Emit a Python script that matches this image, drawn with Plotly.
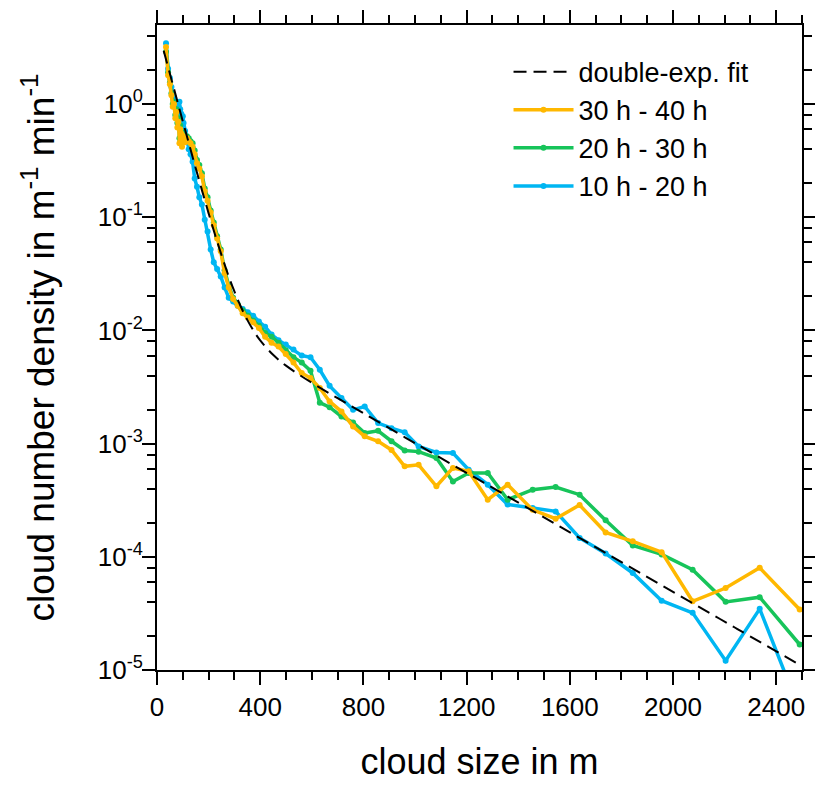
import plotly.graph_objects as go

# ---- data ----
size_m = [35, 43, 50, 56, 61, 66, 71, 75, 79, 83,
          87, 90, 94, 97, 100, 103, 109, 116, 123, 130,
          138, 146, 155, 164, 174, 185, 196, 208, 220, 233,
          247, 262, 278, 295, 313, 332, 352, 373, 395, 419,
          444, 471, 499, 529, 561, 595, 631, 669, 715, 760,
          805, 857, 909, 960, 1014, 1083, 1147, 1208, 1282, 1359,
          1456, 1545, 1638, 1739, 1844, 1956, 2076, 2204, 2336, 2491]

dens_10_20 = [3.45, 2.05, 1.7, 1.42, 1.2, 1.15, 1.0, 1.05, 0.9, 0.95,
              1.05, 0.9, 0.82, 0.75, 0.78, 0.68, 0.58, 0.47, 0.40, 0.36,
              0.31, 0.22, 0.186, 0.15, 0.13, 0.095, 0.075, 0.052, 0.040, 0.035,
              0.030, 0.024, 0.0195, 0.018, 0.0165, 0.0155, 0.0145, 0.0135, 0.012, 0.0108,
              0.0092, 0.0082, 0.0075, 0.0068, 0.006, 0.0058, 0.0045, 0.00324, 0.00253, 0.00199,
              0.00213, 0.00152, 0.00137, 0.00126, 0.000944, 0.000836, 0.000826, 0.000589, 0.000434, 0.00029,
              0.00027, 0.000252, 0.000147, 0.000107, 7.2e-5, 4.1e-5, 3.2e-5, 1.21e-5, 3.47e-5, 4.4e-6]

dens_20_30 = [2.9, 1.9, 1.55, 1.25, 1.0, 1.05, 0.8, 0.9, 0.68, 0.75,
              0.5, 0.65, 0.58, 0.47, 0.52, 0.55, 0.5, 0.52, 0.5, 0.47,
              0.45, 0.39, 0.32, 0.29, 0.245, 0.18, 0.15, 0.115, 0.09, 0.068,
              0.052, 0.034, 0.025, 0.0195, 0.017, 0.015, 0.0135, 0.0122, 0.011, 0.0095,
              0.0088, 0.0078, 0.0067, 0.0058, 0.0052, 0.0044, 0.0023, 0.0021, 0.00174, 0.00154,
              0.00124, 0.0013, 0.00105, 0.00087, 0.00085, 0.000746, 0.000463, 0.00055, 0.00055, 0.00032,
              0.000392, 0.000414, 0.000354, 0.00021, 0.000126, 0.000105, 7.7e-5, 4.0e-5, 4.4e-5, 1.68e-5]

dens_30_40 = [3.2, 1.8, 1.5, 1.2, 0.95, 1.0, 0.75, 0.85, 0.62, 0.7,
              0.45, 0.6, 0.55, 0.42, 0.48, 0.52, 0.46, 0.5, 0.47, 0.45,
              0.42, 0.36, 0.30, 0.27, 0.23, 0.17, 0.14, 0.11, 0.085, 0.065,
              0.05, 0.032, 0.024, 0.019, 0.0165, 0.0142, 0.013, 0.0118, 0.0105, 0.0088,
              0.0078, 0.0072, 0.0062, 0.0052, 0.0042, 0.0038, 0.0031, 0.00236, 0.00192, 0.00142,
              0.00116, 0.00105, 0.00088, 0.00063, 0.00065, 0.00042, 0.00061, 0.00057, 0.00032, 0.000434,
              0.00026, 0.000217, 0.000287, 0.000164, 0.000137, 0.00011, 4.05e-5, 5.3e-5, 8.0e-5, 3.42e-5]

fit_x = [26, 50, 75, 100, 125, 150, 175, 200, 225, 250, 275, 300, 325, 350, 375,
         400, 450, 500, 600, 700, 800, 1000, 1250, 1500, 1750, 2000, 2250, 2500]
fit_y = [2.96, 1.857, 1.143, 0.705, 0.437, 0.272, 0.171, 0.1086, 0.0700, 0.0463,
         0.0314, 0.02213, 0.0162, 0.0124, 0.00988, 0.00817, 0.00609, 0.00489, 0.00345,
         0.00252, 0.00186, 0.00101, 0.000475, 0.000223, 0.0001045, 4.9e-5, 2.3e-5, 1.08e-5]

x_ticks = [0, 400, 800, 1200, 1600, 2000, 2400]
y_ticks = [1e-5, 1e-4, 1e-3, 1e-2, 1e-1, 1]
y_ticktext = ["10<sup>-5</sup>", "10<sup>-4</sup>", "10<sup>-3</sup>",
              "10<sup>-2</sup>", "10<sup>-1</sup>", "10<sup>0</sup>"]

C_BLUE = "#00B6F2"
C_GREEN = "#17C45A"
C_YELLOW = "#FFB800"
FONT = "Liberation Sans, Arial, Helvetica, sans-serif"

fig = go.Figure()
for name, ys, col in [("10 h - 20 h", dens_10_20, C_BLUE),
                      ("20 h - 30 h", dens_20_30, C_GREEN),
                      ("30 h - 40 h", dens_30_40, C_YELLOW)]:
    fig.add_trace(go.Scatter(x=size_m, y=ys, name=name, mode="lines+markers",
                             line=dict(color=col, width=3.5),
                             marker=dict(color=col, size=6)))
fig.add_trace(go.Scatter(x=fit_x, y=fit_y, name="double-exp. fit", mode="lines",
                         line=dict(color="black", width=2, dash="13px,7px", shape="spline")))

minor_y = [m * 10 ** e for e in range(-5, 1) for m in (2, 4, 6, 8)] + [2, 4]

axis_common = dict(showline=True, linecolor="black", linewidth=2, mirror="ticks",
                   ticks="outside", tickcolor="black", tickwidth=2, ticklen=13,
                   showgrid=False, zeroline=False,
                   tickfont=dict(family=FONT, size=26, color="black"))

fig.update_xaxes(range=[0, 2500], tickmode="array", tickvals=x_ticks,
                 minor=dict(dtick=100, tick0=0, ticks="outside", ticklen=8, tickwidth=1.5,
                            tickcolor="black", showgrid=False),
                 title=dict(text="cloud size in m", standoff=28,
                            font=dict(family=FONT, size=36, color="black")),
                 **axis_common)
fig.update_yaxes(type="log", range=[-5, 0.699], tickmode="array", tickvals=y_ticks,
                 ticktext=y_ticktext, ticklabelstandoff=-6,
                 minor=dict(tickmode="array", tickvals=minor_y, ticks="outside", ticklen=8,
                            tickwidth=1.5, tickcolor="black", showgrid=False),
                 title=dict(text="cloud number density in m<sup>-1</sup> min<sup>-1</sup>",
                            standoff=32, font=dict(family=FONT, size=37, color="black")),
                 **axis_common)

fig.update_layout(width=815, height=787, autosize=False,
                  margin=dict(l=157, r=13, t=25, b=117, autoexpand=False),
                  plot_bgcolor="white", paper_bgcolor="white",
                  font=dict(family=FONT, color="black"),
                  legend=dict(x=0.545, y=0.965, xanchor="left", yanchor="top",
                              traceorder="reversed", bgcolor="rgba(0,0,0,0)",
                              font=dict(family=FONT, size=27, color="black"),
                              itemwidth=60, tracegroupgap=0))

fig.write_html("out.html")
